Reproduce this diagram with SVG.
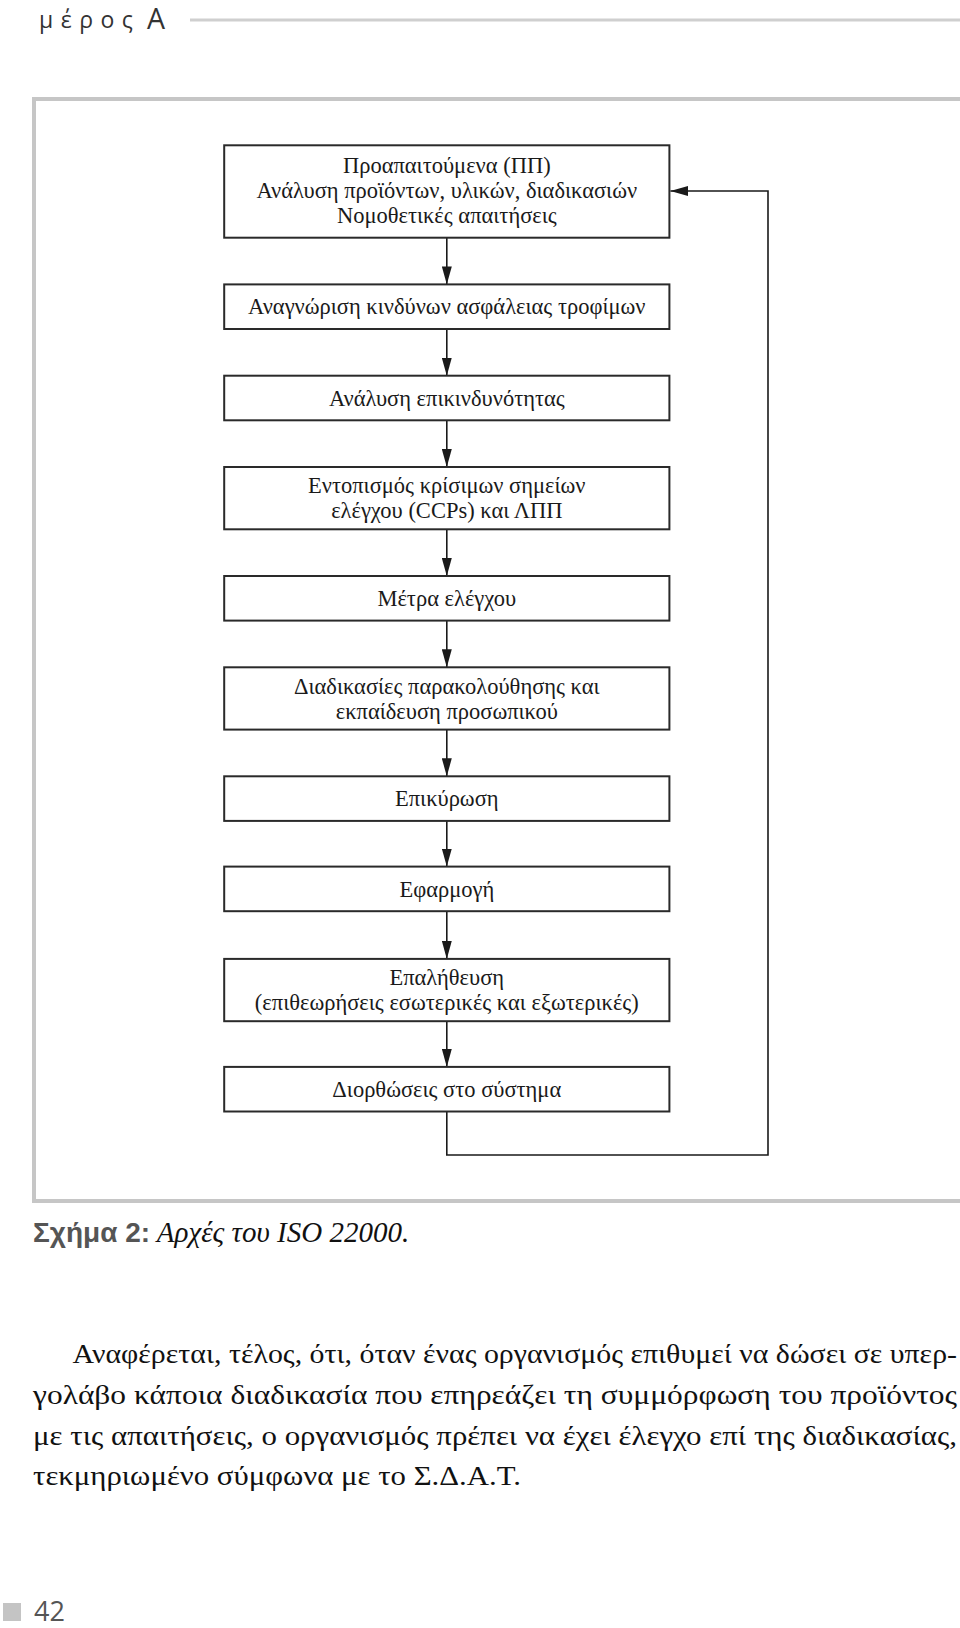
<svg xmlns="http://www.w3.org/2000/svg" width="960" height="1628" viewBox="0 0 960 1628">
<style>
.bg{fill:#ffffff}
.box{fill:#ffffff;stroke:#2a2a2a;stroke-width:2}
.lbl{font-family:"Liberation Serif","DejaVu Serif",serif;font-size:22.5px;fill:#1a1a1a;text-anchor:middle}
.con{fill:none;stroke:#1a1a1a;stroke-width:1.6}
.para{font-family:"Liberation Serif","DejaVu Serif",serif;font-size:28px;fill:#111}
</style>
<defs>
<marker id="ah" viewBox="0 -5 18 10" refX="18" refY="0" markerWidth="18" markerHeight="10" markerUnits="userSpaceOnUse" orient="auto">
<path d="M0,-5 L18,0 L0,5 z" fill="#1a1a1a"/>
</marker>
</defs>
<rect class="bg" x="0" y="0" width="960" height="1628"/>
<g id="header">
<text x="39" y="28" font-family="'Open Sans','Noto Sans',sans-serif" font-size="23" letter-spacing="7.5" fill="#333">μέρος</text>
<text x="147" y="29" font-family="'Open Sans','Noto Sans',sans-serif" font-size="28.5" fill="#333">Α</text>
<line x1="190" y1="20" x2="960" y2="20" stroke="#cfcfcf" stroke-width="3"/>
</g>
<rect id="frame" x="34" y="99" width="930" height="1102" fill="none" stroke="#c6c6c6" stroke-width="4"/>
<g id="connectors">
<line class="con" x1="446.8" y1="237.7" x2="446.8" y2="284.4" marker-end="url(#ah)"/>
<line class="con" x1="446.8" y1="329" x2="446.8" y2="375.7" marker-end="url(#ah)"/>
<line class="con" x1="446.8" y1="420.3" x2="446.8" y2="467" marker-end="url(#ah)"/>
<line class="con" x1="446.8" y1="529.3" x2="446.8" y2="576" marker-end="url(#ah)"/>
<line class="con" x1="446.8" y1="620.6" x2="446.8" y2="667.3" marker-end="url(#ah)"/>
<line class="con" x1="446.8" y1="729.6" x2="446.8" y2="776.3" marker-end="url(#ah)"/>
<line class="con" x1="446.8" y1="820.9" x2="446.8" y2="866.6" marker-end="url(#ah)"/>
<line class="con" x1="446.8" y1="911.2" x2="446.8" y2="958.9" marker-end="url(#ah)"/>
<line class="con" x1="446.8" y1="1021.2" x2="446.8" y2="1066.9" marker-end="url(#ah)"/>
<path class="con" d="M446.8,1111.5 V1155 H768 V191 H670.4" marker-end="url(#ah)"/>
</g>
<g id="n1"><rect class="box" x="224.2" y="145.3" width="445.2" height="92.4"/>
<text class="lbl" x="446.8" y="173">Προαπαιτούμενα (ΠΠ)</text>
<text class="lbl" x="446.8" y="198">Ανάλυση προϊόντων, υλικών, διαδικασιών</text>
<text class="lbl" x="446.8" y="223">Νομοθετικές απαιτήσεις</text></g>
<g id="n2"><rect class="box" x="224.2" y="284.4" width="445.2" height="44.6"/>
<text class="lbl" x="446.8" y="314">Αναγνώριση κινδύνων ασφάλειας τροφίμων</text></g>
<g id="n3"><rect class="box" x="224.2" y="375.7" width="445.2" height="44.6"/>
<text class="lbl" x="446.8" y="405.5">Ανάλυση επικινδυνότητας</text></g>
<g id="n4"><rect class="box" x="224.2" y="467" width="445.2" height="62.3"/>
<text class="lbl" x="446.8" y="493">Εντοπισμός κρίσιμων σημείων</text>
<text class="lbl" x="446.8" y="518">ελέγχου (CCPs) και ΛΠΠ</text></g>
<g id="n5"><rect class="box" x="224.2" y="576" width="445.2" height="44.6"/>
<text class="lbl" x="446.8" y="606">Μέτρα ελέγχου</text></g>
<g id="n6"><rect class="box" x="224.2" y="667.3" width="445.2" height="62.3"/>
<text class="lbl" x="446.8" y="693.5">Διαδικασίες παρακολούθησης και</text>
<text class="lbl" x="446.8" y="718.5">εκπαίδευση προσωπικού</text></g>
<g id="n7"><rect class="box" x="224.2" y="776.3" width="445.2" height="44.6"/>
<text class="lbl" x="446.8" y="806">Επικύρωση</text></g>
<g id="n8"><rect class="box" x="224.2" y="866.6" width="445.2" height="44.6"/>
<text class="lbl" x="446.8" y="896.5">Εφαρμογή</text></g>
<g id="n9"><rect class="box" x="224.2" y="958.9" width="445.2" height="62.3"/>
<text class="lbl" x="446.8" y="985">Επαλήθευση</text>
<text class="lbl" x="446.8" y="1010">(επιθεωρήσεις εσωτερικές και εξωτερικές)</text></g>
<g id="n10"><rect class="box" x="224.2" y="1066.9" width="445.2" height="44.6"/>
<text class="lbl" x="446.8" y="1096.5">Διορθώσεις στο σύστημα</text></g>
<g id="caption">
<text x="33" y="1242"><tspan font-family="'Liberation Sans',sans-serif" font-weight="bold" fill="#555" font-size="28">Σχήμα 2:</tspan><tspan font-family="'Liberation Serif',serif" font-style="italic" fill="#111" font-size="29"> Αρχές του ISO 22000.</tspan></text>
</g>
<g id="paragraph">
<text class="para" x="72.6" y="1362.6" textLength="884.4" lengthAdjust="spacingAndGlyphs">Αναφέρεται, τέλος, ότι, όταν ένας οργανισμός επιθυμεί να δώσει σε υπερ-</text>
<text class="para" x="33" y="1403.5" textLength="924" lengthAdjust="spacingAndGlyphs">γολάβο κάποια διαδικασία που επηρεάζει τη συμμόρφωση του προϊόντος</text>
<text class="para" x="33" y="1444.5" textLength="924" lengthAdjust="spacingAndGlyphs">με τις απαιτήσεις, ο οργανισμός πρέπει να έχει έλεγχο επί της διαδικασίας,</text>
<text class="para" x="33" y="1484.5" textLength="488" lengthAdjust="spacingAndGlyphs">τεκμηριωμένο σύμφωνα με το Σ.Δ.Α.Τ.</text>
</g>
<g id="footer">
<rect x="3" y="1603" width="18" height="18" fill="#c4c4c4"/>
<text x="34" y="1621" font-family="'Open Sans','Noto Sans',sans-serif" font-size="27" fill="#555">42</text>
</g>
</svg>
